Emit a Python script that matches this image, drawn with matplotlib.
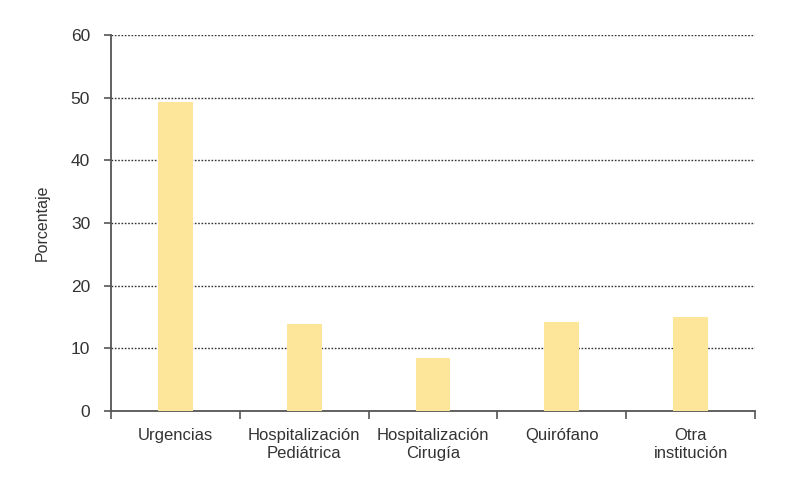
import numpy as np
import matplotlib.pyplot as plt

categorias = ["Urgencias", "Hospitalización\nPediátrica", "Hospitalización\nCirugía",
              "Quirófano", "Otra\ninstitución"]
porcentajes = [49.3, 13.9, 8.5, 14.2, 15.0]
y_ticks = [0, 10, 20, 30, 40, 50, 60]

plt.rcParams['font.family'] = ['Liberation Sans', 'DejaVu Sans']

fig = plt.figure(figsize=(8.02, 4.8), dpi=100)
ax = fig.add_axes([111 / 802, 1 - 411 / 480, 644 / 802, 376 / 480])

x = np.arange(len(categorias))
ax.bar(x, porcentajes, width=0.27, color='#fde59a', zorder=3)

ax.set_xlim(-0.5, len(categorias) - 0.5)
ax.set_ylim(0, 60)
ax.set_yticks(y_ticks)
ax.yaxis.grid(True, linestyle=(0, (1.2, 1.2)), color='#333333', linewidth=1.0, zorder=1)
ax.set_axisbelow(True)

# etiquetas centradas en cada categoría, marcas en los límites
ax.set_xticks(np.arange(-0.5, len(categorias)), minor=False)
ax.set_xticklabels([])
ax.set_xticks(x, minor=True)
ax.set_xticklabels(categorias, minor=True, fontsize=12, color='#333333', linespacing=1.3)
ax.tick_params(axis='x', which='minor', length=0, pad=12)
ax.tick_params(axis='x', which='major', length=6, width=1.2, color='#555555', direction='out')
ax.tick_params(axis='y', length=5, width=1.2, color='#555555', labelsize=12.5,
               labelcolor='#333333', pad=10)

for lado in ['top', 'right']:
    ax.spines[lado].set_visible(False)
for lado in ['left', 'bottom']:
    ax.spines[lado].set_color('#555555')
    ax.spines[lado].set_linewidth(1.3)

ax.set_ylabel("Porcentaje", fontsize=11.5, color='#333333', labelpad=15)

fig.savefig('out.png', dpi=100)
